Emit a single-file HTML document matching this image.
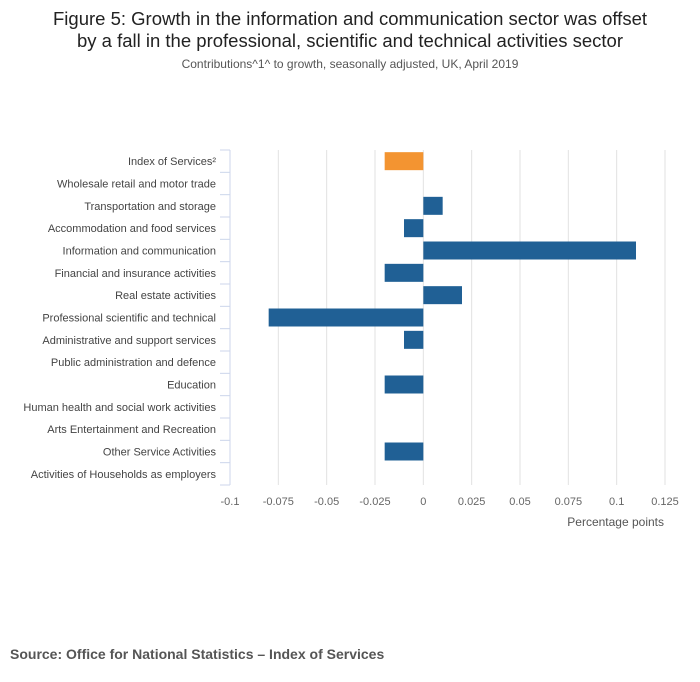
<!DOCTYPE html>
<html><head><meta charset="utf-8"><style>
body{margin:0;background:#fff;font-family:"Liberation Sans",sans-serif;}
#wrap{position:relative;width:700px;height:682px;overflow:hidden;}
.t{position:absolute;left:0;width:700px;text-align:center;color:#222;}
</style></head><body>
<div id="wrap">
<div class="t" style="top:8px;font-size:18.5px;line-height:22px;">Figure 5: Growth in the information and communication sector was offset<br>by a fall in the professional, scientific and technical activities sector</div>
<div class="t" style="top:57px;font-size:12px;color:#555;">Contributions^1^ to growth, seasonally adjusted, UK, April 2019</div>
<svg id="chart" width="700" height="682" style="position:absolute;left:0;top:0"></svg>
<div style="position:absolute;left:10px;top:646px;font-size:14px;font-weight:bold;color:#555;">Source: Office for National Statistics – Index of Services</div>
</div>
<script>
const categories=["Index of Services²","Wholesale retail and motor trade","Transportation and storage","Accommodation and food services","Information and communication","Financial and insurance activities","Real estate activities","Professional scientific and technical","Administrative and support services","Public administration and defence","Education","Human health and social work activities","Arts Entertainment and Recreation","Other Service Activities","Activities of Households as employers"];
const values=[-0.02,0,0.01,-0.01,0.11,-0.02,0.02,-0.08,-0.01,0,-0.02,0,0,-0.02,0];
const ticks=[-0.1,-0.075,-0.05,-0.025,0,0.025,0.05,0.075,0.1,0.125];
const tickLabels=["-0.1","-0.075","-0.05","-0.025","0","0.025","0.05","0.075","0.1","0.125"];
const NS="http://www.w3.org/2000/svg",svg=document.getElementById('chart');
const x0=230,x1=665,vmin=-0.1,vmax=0.125,yTop=150,yBot=485;
const X=v=>x0+(v-vmin)/(vmax-vmin)*(x1-x0);
const rh=(yBot-yTop)/categories.length;
function mk(t,a){const e=document.createElementNS(NS,t);for(const k in a)e.setAttribute(k,a[k]);svg.appendChild(e);return e;}
ticks.forEach((t,i)=>{
 if(i>0){const g=mk('line',{x1:X(t),x2:X(t),y1:yTop,y2:yBot,stroke:'#e2e2e2'});
 
 }
 const l=mk('text',{x:X(t),y:505,'text-anchor':'middle','font-size':11,fill:'#666'});l.textContent=tickLabels[i];
 
 
});
const ax=mk('line',{x1:x0,x2:x0,y1:yTop,y2:yBot,stroke:'#ccd6eb'});


for(let i=0;i<=categories.length;i++){const tk=mk('line',{x1:x0-10,x2:x0,y1:yTop+i*rh,y2:yTop+i*rh,stroke:'#ccd6eb'});
 
 }
categories.forEach((c,i)=>{
 const cy=yTop+(i+0.5)*rh;
 const l=mk('text',{x:216,y:cy+4,'text-anchor':'end','font-size':11,fill:'#444'});l.textContent=c;
 
 
 const v=values[i];
 if(v!==0){const a=Math.min(X(v),X(0)),w=Math.abs(X(v)-X(0));
 const b=mk('rect',{x:a,y:cy-9,width:w,height:18,fill:i===0?'#f39431':'#206095'});
 
 }
});
const xt=mk('text',{x:664,y:526,'text-anchor':'end','font-size':12,fill:'#555'});xt.textContent='Percentage points';


</script>
</body></html>
